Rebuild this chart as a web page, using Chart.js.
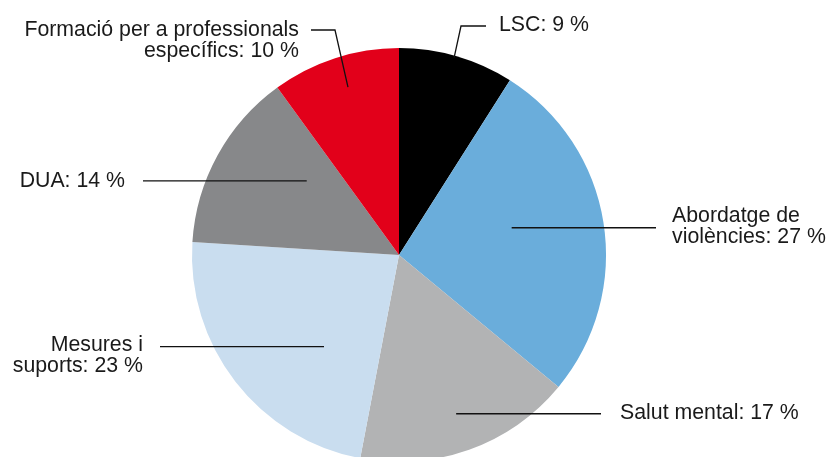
<!DOCTYPE html>
<html>
<head>
<meta charset="utf-8">
<script src="https://cdn.jsdelivr.net/npm/chart.js@4/dist/chart.umd.min.js"></script>
<style>
  html, body { margin: 0; padding: 0; background: #fff; overflow: hidden; }
  #wrap { width: 830px; height: 457px; overflow: hidden; }
</style>
</head>
<body>
<div id="wrap"><canvas id="pieChart" width="830" height="470"></canvas></div>
<script>
// data (percent)
const categories = ['LSC', 'Abordatge de violències', 'Salut mental', 'Mesures i suports', 'DUA', 'Formació per a professionals específics'];
const shares = [9, 27, 17, 23, 14, 10];
const sliceColors = ['#000000', '#6aaddb', '#b2b3b4', '#c9ddef', '#87888a', '#e2001a'];

// label text lines for each slice
const labelLines = [
    ['LSC: 9 %'],
    ['Abordatge de', 'violències: 27 %'],
    ['Salut mental: 17 %'],
    ['Mesures i', 'suports: 23 %'],
    ['DUA: 14 %'],
    ['Formació per a professionals', 'específics: 10 %']
];

// leader line layout: anchor inside the slice (angle from top in deg, radius fraction),
// optional elbow, end of line, text position and alignment
const labelLayout = [
    { ang: 15.6, f: 0.99, elbow: [461, 26], end: 486, textX: 499, textY: 25, align: 'left' },
    { ang: 76.4, f: 0.56, end: 656, textX: 672, textY: 216, align: 'left' },
    { ang: 160.2, f: 0.815, end: 601, textX: 620, textY: 413, align: 'left' },
    { ang: 219.3, f: 0.572, end: 160, textX: 143, textY: 345, align: 'right' },
    { ang: 308.8, f: 0.572, end: 143, textX: 125, textY: 181, align: 'right' },
    { ang: 343.1, f: 0.848, elbow: [335, 30], end: 311, textX: 299, textY: 30, align: 'right' }
];

const leaderLabels = {
    id: 'leaderLabels',
    afterDatasetsDraw(chart) {
        const ctx = chart.ctx;
        const arc = chart.getDatasetMeta(0).data[0];
        const { x: cx, y: cy, outerRadius } = arc.getProps(['x', 'y', 'outerRadius'], true);
        ctx.save();
        ctx.strokeStyle = '#111';
        ctx.lineWidth = 1.3;
        ctx.fillStyle = '#1a1a1a';
        ctx.font = '21.3px "Liberation Sans", Arial, sans-serif';
        ctx.textBaseline = 'middle';
        labelLayout.forEach((l, i) => {
            const a = l.ang * Math.PI / 180;
            const sx = cx + Math.sin(a) * outerRadius * l.f;
            const sy = cy - Math.cos(a) * outerRadius * l.f;
            ctx.beginPath();
            ctx.moveTo(sx, sy);
            let ly = sy;
            if (l.elbow) {
                ctx.lineTo(l.elbow[0], l.elbow[1]);
                ly = l.elbow[1];
            }
            ctx.lineTo(l.end, ly);
            ctx.stroke();
            ctx.textAlign = l.align;
            labelLines[i].forEach((t, j) => {
                ctx.fillText(t, l.textX, l.textY + j * 21.5);
            });
        });
        ctx.restore();
    }
};

new Chart(document.getElementById('pieChart').getContext('2d'), {
    type: 'pie',
    data: {
        labels: categories,
        datasets: [{
            data: shares,
            backgroundColor: sliceColors,
            borderWidth: 0
        }]
    },
    options: {
        responsive: false,
        animation: false,
        layout: {
            padding: { left: 192, right: 224, top: 48, bottom: 8 }
        },
        plugins: {
            legend: { display: false },
            tooltip: { enabled: false }
        }
    },
    plugins: [leaderLabels]
});
</script>
</body>
</html>
